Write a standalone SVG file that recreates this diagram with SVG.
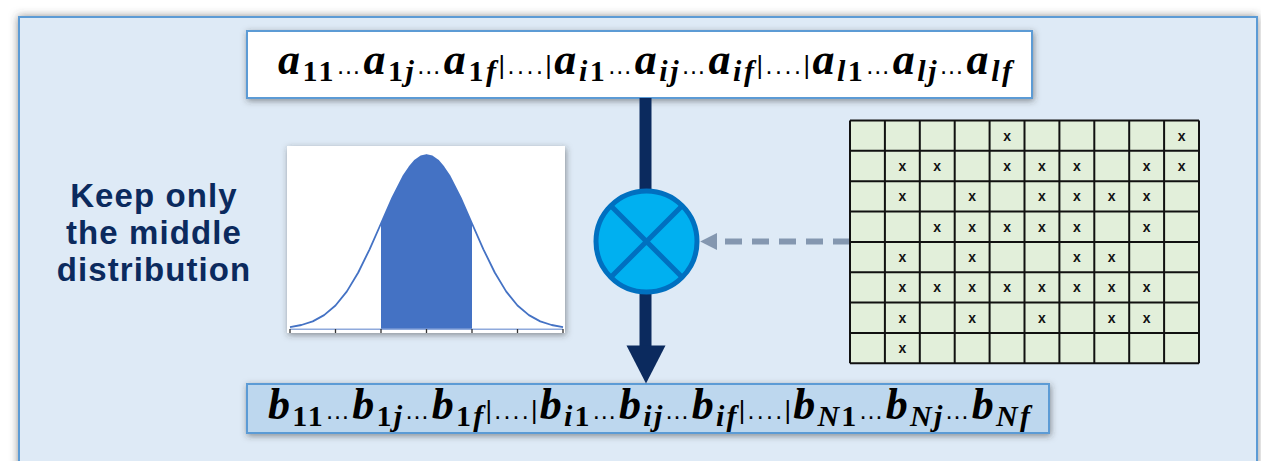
<svg xmlns="http://www.w3.org/2000/svg" width="1261" height="461" viewBox="0 0 1261 461">
<defs>
<filter id="sh" x="-10%" y="-10%" width="120%" height="130%">
<feDropShadow dx="0" dy="0" stdDeviation="4" flood-color="#444" flood-opacity="0.6"/>
</filter>
<filter id="sh2" x="-10%" y="-20%" width="120%" height="150%">
<feDropShadow dx="1" dy="2" stdDeviation="3" flood-color="#333" flood-opacity="0.5"/>
</filter>
<marker id="ah" viewBox="0 0 10 10" refX="0" refY="5" markerWidth="2.8" markerHeight="2.8" orient="auto" markerUnits="strokeWidth">
<path d="M0,0 L10,5 L0,10 Z" fill="#8497B0"/>
</marker>
<style>
.m{font-family:"Liberation Serif",serif;font-size:44px;font-weight:bold;font-style:italic;fill:#000}
.s{font-size:30px}
.n{font-style:normal}
.e{font-family:"Liberation Sans",sans-serif;font-style:normal;font-weight:normal;font-size:25px}
.lbl{font-family:"Liberation Sans",sans-serif;font-weight:bold;font-size:33px;letter-spacing:1.1px;fill:#0B2A5E;text-anchor:middle}
.gx{font-family:"Liberation Sans",sans-serif;font-weight:bold;font-size:14px;fill:#111;text-anchor:middle}
.box{stroke:#5B9BD5;stroke-width:2}
</style>
</defs>
<rect x="0" y="0" width="1261" height="461" fill="#fff"/>
<rect id="panel" x="19" y="17" width="1238" height="470" fill="#DEEAF6" stroke="#5B9BD5" stroke-width="2" filter="url(#sh)"/>

<g id="input">
<rect class="box" x="247" y="31" width="785" height="67" fill="#fff" filter="url(#sh2)"/>
<text class="m" x="278" y="74" textLength="734" lengthAdjust="spacing"><tspan>a</tspan><tspan class="s" dy="7"><tspan class="n">11</tspan></tspan><tspan class="e" dy="-7">…</tspan><tspan>a</tspan><tspan class="s" dy="7"><tspan class="n">1</tspan>j</tspan><tspan class="e" dy="-7">…</tspan><tspan>a</tspan><tspan class="s" dy="7"><tspan class="n">1</tspan>f</tspan><tspan class="e" dy="-7">|....|</tspan><tspan>a</tspan><tspan class="s" dy="7">i<tspan class="n">1</tspan></tspan><tspan class="e" dy="-7">…</tspan><tspan>a</tspan><tspan class="s" dy="7">ij</tspan><tspan class="e" dy="-7">…</tspan><tspan>a</tspan><tspan class="s" dy="7">if</tspan><tspan class="e" dy="-7">|....|</tspan><tspan>a</tspan><tspan class="s" dy="7">l<tspan class="n">1</tspan></tspan><tspan class="e" dy="-7">…</tspan><tspan>a</tspan><tspan class="s" dy="7">lj</tspan><tspan class="e" dy="-7">…</tspan><tspan>a</tspan><tspan class="s" dy="7">lf</tspan></text>
</g>

<g id="output">
<rect class="box" x="247" y="384" width="802" height="49" fill="#BDD7EE" filter="url(#sh2)"/>
<text class="m" x="268" y="419" textLength="762" lengthAdjust="spacing"><tspan>b</tspan><tspan class="s" dy="7"><tspan class="n">11</tspan></tspan><tspan class="e" dy="-7">…</tspan><tspan>b</tspan><tspan class="s" dy="7"><tspan class="n">1</tspan>j</tspan><tspan class="e" dy="-7">…</tspan><tspan>b</tspan><tspan class="s" dy="7"><tspan class="n">1</tspan>f</tspan><tspan class="e" dy="-7">|....|</tspan><tspan>b</tspan><tspan class="s" dy="7">i<tspan class="n">1</tspan></tspan><tspan class="e" dy="-7">…</tspan><tspan>b</tspan><tspan class="s" dy="7">ij</tspan><tspan class="e" dy="-7">…</tspan><tspan>b</tspan><tspan class="s" dy="7">if</tspan><tspan class="e" dy="-7">|....|</tspan><tspan>b</tspan><tspan class="s" dy="7">N<tspan class="n">1</tspan></tspan><tspan class="e" dy="-7">…</tspan><tspan>b</tspan><tspan class="s" dy="7">Nj</tspan><tspan class="e" dy="-7">…</tspan><tspan>b</tspan><tspan class="s" dy="7">Nf</tspan></text>
</g>

<g id="connectors">
<line x1="645.5" y1="98" x2="645.5" y2="347" stroke="#0B2A5E" stroke-width="12"/>
<path d="M626.5,345.5 L665.5,345.5 L646,383.5 Z" fill="#0B2A5E"/>
<line x1="850" y1="241.5" x2="717" y2="241.5" stroke="#8497B0" stroke-width="6" stroke-dasharray="17 10" marker-end="url(#ah)"/>
</g>

<g id="multiply">
<circle cx="646.5" cy="241.5" r="50.5" fill="#00B0F0" stroke="#0070C0" stroke-width="5"/>
<path d="M610.8,205.8 L682.2,277.2 M682.2,205.8 L610.8,277.2" stroke="#0070C0" stroke-width="5"/>
</g>

<g id="label">
<text class="lbl" y="207"><tspan x="154">Keep only</tspan><tspan x="154" dy="37">the middle</tspan><tspan x="154" dy="37">distribution</tspan></text>
</g>

<g id="bell">
<rect x="287" y="146" width="278" height="187" fill="#fff" filter="url(#sh2)"/>
<path d="M381,329 L381,223.5 L392.4,197.7 L403.75,175.4 L409.4,167.2 L415.1,160.4 L420.8,156.4 L426.5,155 L432.2,156.4 L437.9,160.4 L443.6,167.2 L449.25,175.4 L460.6,197.7 L472,223.5 L472,329 Z" fill="#4472C4"/>
<path d="M290,327.1 L301.4,325 L312.75,321.4 L324.1,315.1 L335.5,305.5 L346.9,291.4 L358.25,272.5 L369.6,249.3 L381,223.5 L392.4,197.7 L403.75,175.4 L409.4,167.2 L415.1,160.4 L420.8,156.4 L426.5,155 L432.2,156.4 L437.9,160.4 L443.6,167.2 L449.25,175.4 L460.6,197.7 L472,223.5 L483.4,249.3 L494.75,272.5 L506.1,291.4 L517.5,305.5 L528.9,315.1 L540.25,321.4 L551.6,325 L563,327.1" fill="none" stroke="#4472C4" stroke-width="1.8" stroke-linejoin="round"/>
<line x1="290" y1="329.3" x2="563" y2="329.3" stroke="#8FAADC" stroke-width="1.5"/>
<path d="M290,329 v4 M335.5,329 v4 M381,329 v4 M426.5,329 v4 M472,329 v4 M517.5,329 v4 M563,329 v4" stroke="#333" stroke-width="1.3"/>
</g>

<g id="matrix">
<rect x="850" y="120.5" width="349" height="242.8" fill="#E2EFDA"/>
<path d="M850,120.5 V363.3 M884.9,120.5 V363.3 M919.8,120.5 V363.3 M954.7,120.5 V363.3 M989.6,120.5 V363.3 M1024.5,120.5 V363.3 M1059.4,120.5 V363.3 M1094.3,120.5 V363.3 M1129.2,120.5 V363.3 M1164.1,120.5 V363.3 M1199,120.5 V363.3 M850,120.5 H1199 M850,150.85 H1199 M850,181.2 H1199 M850,211.55 H1199 M850,241.9 H1199 M850,272.25 H1199 M850,302.6 H1199 M850,332.95 H1199 M850,363.3 H1199" stroke="#111" stroke-width="2" fill="none"/>
<text class="gx" x="1007.05 1181.55" y="140.7">xx</text>
<text class="gx" x="902.35 937.25 1007.05 1041.95 1076.85 1146.65 1181.55" y="171">xxxxxxx</text>
<text class="gx" x="902.35 972.15 1041.95 1076.85 1111.75 1146.65" y="201.4">xxxxxx</text>
<text class="gx" x="937.25 972.15 1007.05 1041.95 1076.85 1146.65" y="231.7">xxxxxx</text>
<text class="gx" x="902.35 972.15 1076.85 1111.75" y="262.1">xxxx</text>
<text class="gx" x="902.35 937.25 972.15 1007.05 1041.95 1076.85 1111.75 1146.65" y="292.4">xxxxxxxx</text>
<text class="gx" x="902.35 972.15 1041.95 1111.75 1146.65" y="322.8">xxxxx</text>
<text class="gx" x="902.35" y="353.1">x</text>
</g>
</svg>
